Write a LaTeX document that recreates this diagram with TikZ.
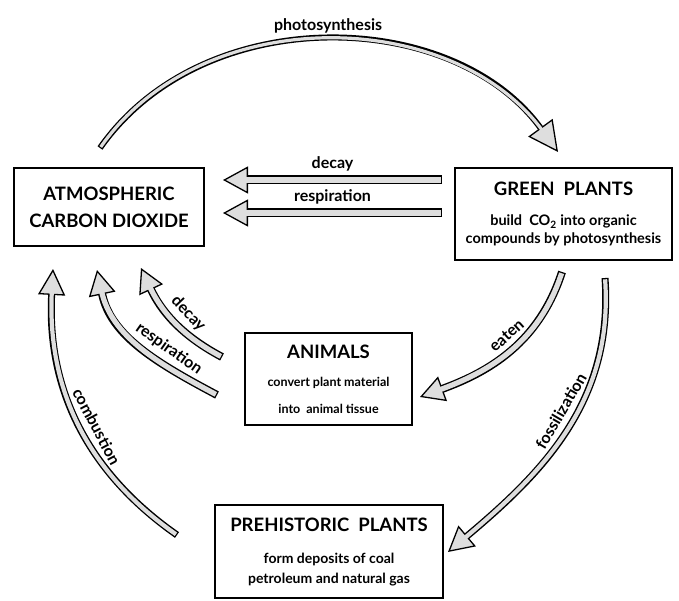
\documentclass[tikz,border=0pt]{standalone}
\usepackage{fontspec}
\setmainfont{Lato}
\usetikzlibrary{arrows.meta,positioning,calc}
\definecolor{stipple}{RGB}{222,222,222}
\newcommand\hd{\fontsize{18.5}{27}\selectfont\bfseries}
\tikzset{
  box/.style={draw, line width=1.6pt, align=center, inner sep=0pt},
  pipe/.style args={#1/#2/#3}{line width=#1,
    -{Triangle[length=#2 0, width=#3 0, fill=stipple, line width=1.3pt]},
    postaction={draw=stipple, line width=#1-2.8pt, arrows=-, shorten >=#2-4pt, shorten <=1.3pt}},
  lbl/.style={font=\fontsize{16}{16}\selectfont\bfseries, inner sep=1pt}
}
\begin{document}
\begin{tikzpicture}[x=1pt, y=1pt]
  \useasboundingbox (0,0) rectangle (679,-601);
  % boxes
  \node[box, minimum width=190pt, minimum height=78pt, font=\hd] (atm) at (109,-207)
    {ATMOSPHERIC\\CARBON DIOXIDE};
  \node[box, minimum width=217pt, minimum height=92pt, font=\fontsize{14.5}{18}\selectfont\bfseries] (green) at (563.5,-214)
    {\hd GREEN\ \ PLANTS\\[12pt]build\ \ CO\textsubscript{2} into organic\\compounds by photosynthesis};
  \node[box, minimum width=167pt, minimum height=92pt, font=\fontsize{12.5}{27}\selectfont\bfseries] (animals) at (328.5,-379)
    {\hd ANIMALS\\[1pt]convert plant material\\into\ \ animal tissue};
  \node[box, minimum width=228pt, minimum height=93pt, font=\fontsize{14}{20}\selectfont\bfseries] (prehist) at (329,-551.5)
    {\hd PREHISTORIC\ \ PLANTS\\[12pt]form deposits of coal\\petroleum and natural gas};
  % arrow ends
  \coordinate (ps-a) at (100,-148);  \coordinate (ps-b) at (558,-152);
  \coordinate (dk-a) at (442,-180);  \coordinate (dk-b) at (223,-180);
  \coordinate (rs-a) at (442,-213);  \coordinate (rs-b) at (223,-213);
  \coordinate (ad-a) at (222,-357);  \coordinate (ad-b) at (141,-268);
  \coordinate (ar-a) at (217,-395);  \coordinate (ar-b) at (97,-270);
  \coordinate (cb-a) at (177,-535);  \coordinate (cb-b) at (53,-269);
  \coordinate (et-a) at (562,-272);  \coordinate (et-b) at (420,-397);
  \coordinate (fz-a) at (605,-278);  \coordinate (fz-b) at (448,-552);
  % arrows
  \draw[pipe=6pt/30pt/30pt] (ps-a) to[out=55, in=126]
    node[midway, above=3pt, lbl] {photosynthesis} (ps-b);
  \draw[pipe=9pt/25pt/27pt] (dk-a) -- node[midway, above=3pt, lbl] {decay} (dk-b);
  \draw[pipe=9pt/25pt/27pt] (rs-a) -- node[midway, above=3pt, lbl] {respiration} (rs-b);
  \draw[pipe=8pt/24pt/26pt] (ad-a) to[out=152, in=-65]
    node[pos=0.45, sloped, above=3pt, lbl] {decay} (ad-b);
  \draw[pipe=8pt/25pt/27pt] (ar-a) to[out=152, in=-78]
    node[pos=0.35, sloped, above=3pt, lbl] {respiration} (ar-b);
  \draw[pipe=7pt/26pt/27pt] (cb-a) to[out=145, in=-93]
    node[pos=0.45, sloped, above=4pt, lbl] {combustion} (cb-b);
  \draw[pipe=8pt/24pt/26pt] (et-a) to[out=-108, in=20]
    node[pos=0.45, sloped, above=3pt, lbl] {eaten} (et-b);
  \draw[pipe=7pt/25pt/27pt] (fz-a) to[out=-86, in=40]
    node[pos=0.45, sloped, above=4pt, lbl] {fossilization} (fz-b);
\end{tikzpicture}
\end{document}
